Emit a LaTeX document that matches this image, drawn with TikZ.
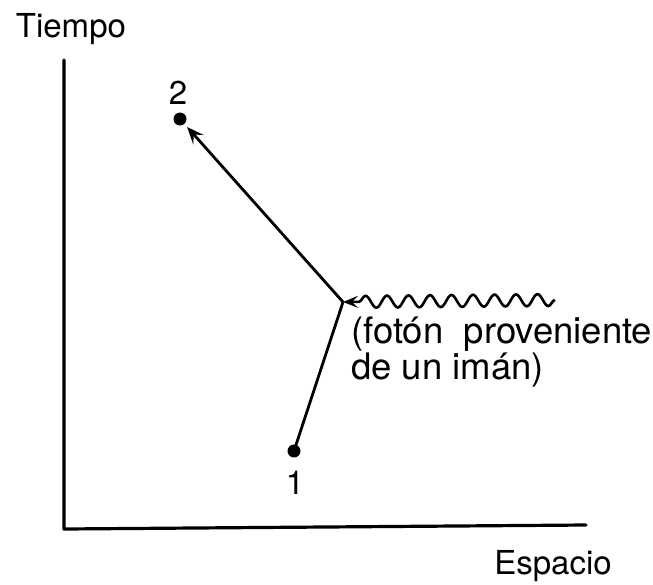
\documentclass[tikz,border=0pt]{standalone}
\usepackage{fontspec}
\setmainfont{TeX Gyre Heros}
\usetikzlibrary{arrows.meta,decorations.pathmorphing}
\begin{document}
\begin{tikzpicture}[x=1pt,y=-1pt,
  axis/.style={line width=3.2pt,line cap=round,line join=round},
  world/.style={line width=2.8pt},
  dot/.style={circle,fill=black,inner sep=0pt,minimum size=13pt},
  lbl/.style={font=\fontsize{33}{36}\selectfont,inner sep=0pt},
  photonlbl/.style={font=\fontsize{36.5}{34}\selectfont,inner sep=0pt,align=left,anchor=north west},
  photon/.style={line width=2.6pt,decorate,decoration={snake,segment length=21.5pt,amplitude=6pt,pre length=0pt,post length=14pt},-{Stealth[length=15pt,width=12pt,inset=6pt]}},
  arr/.style={world,-{Stealth[length=17pt,width=14pt,inset=7pt]},shorten >=4pt}
]
\useasboundingbox (0,0) rectangle (653,584);
% axes
\coordinate (ytop) at (64,60);
\coordinate (orig) at (64,529);
\coordinate (xend) at (586,525);
\draw[axis] (ytop) -- (orig) -- (xend);
\node[lbl,anchor=base] (tiempo) at (71,37) {Tiempo};
\node[lbl,anchor=base] (espacio) at (553,574) {Espacio};
% events
\node[dot] (p2) at (180,119) {};
\node[dot] (p1) at (294,451) {};
\coordinate (v) at (343,302);
\node[lbl,anchor=base] (l2) at (178,104) {2};
\node[lbl,anchor=base] (l1) at (295,494) {1};
% world lines
\draw[world] (p1.center) -- (v);
\draw[arr] (v) -- (p2);
% photon
\coordinate (ph) at (555,300);
\draw[photon] (ph) -- (v);
\node[photonlbl] (txt) at (351,317) {(fotón\ \ proveniente\\de un imán)};
\end{tikzpicture}
\end{document}
